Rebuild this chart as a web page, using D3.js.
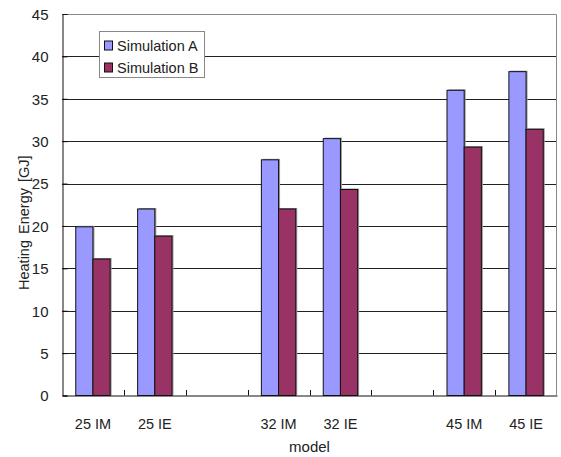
<!DOCTYPE html>
<html><head><meta charset="utf-8">
<script src="https://cdn.jsdelivr.net/npm/d3@7"></script>
<style>
body{margin:0;background:#fff;}
text{font-family:"Liberation Sans",Arial,sans-serif;fill:#222;}
</style></head>
<body><svg id="c" width="561" height="457"></svg>
<script>
const categories = ["25 IM","25 IE","gap1","32 IM","32 IE","gap2","45 IM","45 IE"];
const seriesNames = ["Simulation A","Simulation B"];
const simA = [19.9, 22.0, null, 27.8, 30.3, null, 36.0, 38.2];
const simB = [16.1, 18.8, null, 22.0, 24.3, null, 29.3, 31.4];
const yTicks = [0,5,10,15,20,25,30,35,40,45];
const colors = ["#9999FF","#993366"];

const svg = d3.select("#c");
const m = {l:62, r:4, t:14, b:62};
const W = 561, H = 457;
const x0 = m.l, x1 = W - m.r, y0 = H - m.b, y1 = m.t;

const x = d3.scaleBand().domain(categories).range([x0, x1]);
const y = d3.scaleLinear().domain([0,45]).range([y0 + 0.5, y1]);
const bw = x.bandwidth() / 3.6;
const xs = d3.scaleBand().domain(seriesNames).range([0, bw*2]);

// gridlines
svg.append("g").selectAll("line").data(yTicks.filter(d=>d>0 && d<45)).join("line")
  .attr("x1", x0).attr("x2", x1)
  .attr("y1", d=>Math.round(y(d))+0.5).attr("y2", d=>Math.round(y(d))+0.5)
  .attr("stroke", "#222").attr("stroke-width", 1);
// top/right border
svg.append("path")
  .attr("d", `M${x0},${Math.round(y(45))+0.5}H${x1-0.5}V${y0}`)
  .attr("fill","none").attr("stroke","#888").attr("stroke-width",1);

// bars
const data = [];
categories.forEach((c,i)=>{
  [simA, simB].forEach((s,j)=>{ if (s[i] != null) data.push({c, s: seriesNames[j], v: s[i], j}); });
});
const off = (x.bandwidth() - bw*2)/2;
const g = svg.append("g");
g.selectAll("rect.sh").data(data).join("rect").attr("class","sh")
  .attr("x", d=>x(d.c)+off+xs(d.s)+1.5).attr("y", d=>y(d.v)-1)
  .attr("width", bw).attr("height", d=>y(0)-y(d.v)+1)
  .attr("fill","#999");
g.selectAll("rect.b").data(data).join("rect").attr("class","b")
  .attr("x", d=>x(d.c)+off+xs(d.s)).attr("y", d=>y(d.v))
  .attr("width", bw).attr("height", d=>y(0)-y(d.v))
  .attr("fill", d=>colors[d.j]).attr("stroke","#111").attr("stroke-width",1);

// y axis
const ya = d3.axisLeft(y).tickValues(yTicks).tickSize(-5).tickPadding(14).tickFormat(d3.format("d"));
const yg = svg.append("g").attr("transform",`translate(${x0+0.5},0)`).call(ya);
yg.select(".domain").attr("stroke","#111");
yg.selectAll(".tick line").attr("stroke","#111");
yg.selectAll("text").style("font-size","15px").attr("fill","#222").attr("dy","0.36em");

// x axis
const xa = d3.axisBottom(x).tickSize(0).tickFormat(d=>d.startsWith("gap")?"":d);
const xg = svg.append("g").attr("transform",`translate(0,${y0+0.5})`).call(xa);
xg.select(".domain").attr("stroke","#111");
xg.selectAll("text").style("font-size","14.5px").attr("fill","#222").attr("dy","0").attr("y",33);
// category boundary ticks (inward)
svg.append("g").selectAll("line").data(categories.slice(1)).join("line")
  .attr("x1", d=>Math.round(x(d))+0.5).attr("x2", d=>Math.round(x(d))+0.5)
  .attr("y1", y0+0.5).attr("y2", y0-5).attr("stroke","#111");

// axis titles
svg.append("text").attr("transform",`translate(29,290) rotate(-90)`)
  .attr("text-anchor","start").style("font-size","14.5px").style("word-spacing","2px")
  .text("Heating Energy [GJ]");
svg.append("text").attr("x",(x0+x1)/2).attr("y",452).attr("text-anchor","middle")
  .style("font-size","15px").text("model");

// legend
const lg = svg.append("g");
lg.append("rect").attr("x",99.5).attr("y",31.5).attr("width",105).attr("height",46)
  .attr("fill","#fff").attr("stroke","#888");
seriesNames.forEach((n,i)=>{
  const cy = 45.5 + i*22;
  lg.append("rect").attr("x",104.5).attr("y",cy-4.5).attr("width",8).attr("height",9)
    .attr("fill",colors[i]).attr("stroke","#111");
  lg.append("text").attr("x",117).attr("y",cy+5).style("font-size","14.5px").text(n);
});
</script></body></html>
